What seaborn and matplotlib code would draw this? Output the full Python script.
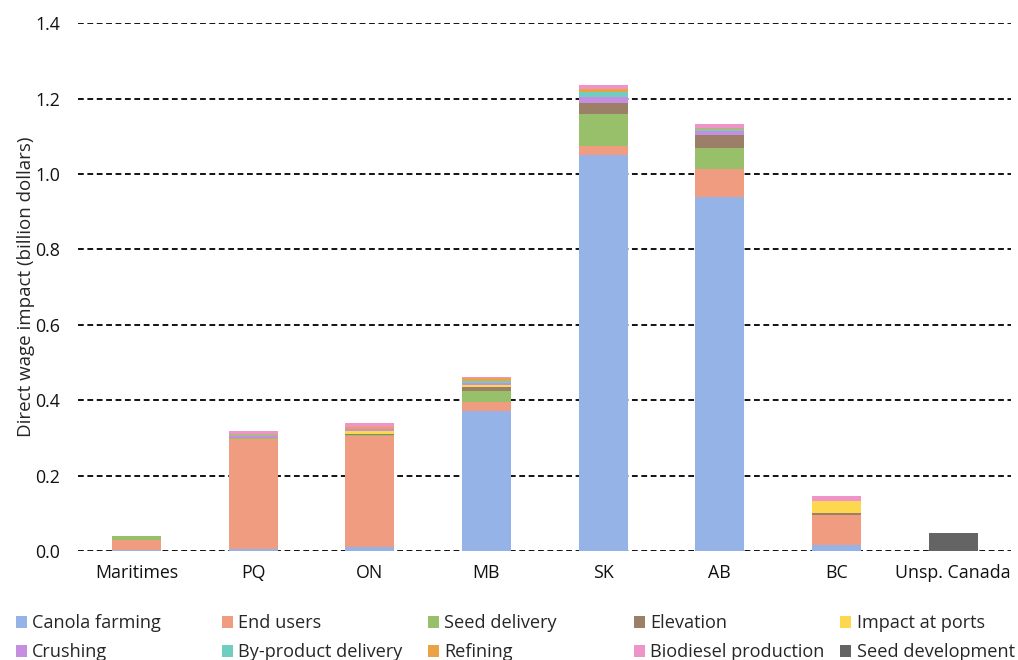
import matplotlib
matplotlib.use("Agg")
import matplotlib.pyplot as plt
from matplotlib.patches import Patch
import seaborn as sns
import pandas as pd

regions = ["Maritimes", "PQ", "ON", "MB", "SK", "AB", "BC", "Unsp. Canada"]

canola_farming = [0.002, 0.006, 0.012, 0.371, 1.049, 0.939, 0.016, 0.0]
end_users = [0.027, 0.291, 0.294, 0.025, 0.025, 0.074, 0.079, 0.0]
seed_delivery = [0.010, 0.002, 0.002, 0.029, 0.084, 0.056, 0.0, 0.0]
elevation = [0.0, 0.001, 0.002, 0.011, 0.029, 0.034, 0.007, 0.0]
impact_at_ports = [0.0, 0.0, 0.009, 0.004, 0.002, 0.0, 0.032, 0.0]
crushing = [0.0, 0.004, 0.004, 0.005, 0.015, 0.012, 0.0, 0.0]
byproduct_delivery = [0.0, 0.005, 0.002, 0.005, 0.012, 0.004, 0.0, 0.0]
refining = [0.0, 0.001, 0.004, 0.010, 0.010, 0.002, 0.0, 0.0]
biodiesel_production = [0.0, 0.009, 0.011, 0.001, 0.010, 0.011, 0.011, 0.0]
seed_development = [0.0, 0.0, 0.0, 0.0, 0.0, 0.0, 0.0, 0.047]

series = {
    "Canola farming": canola_farming,
    "End users": end_users,
    "Seed delivery": seed_delivery,
    "Elevation": elevation,
    "Impact at ports": impact_at_ports,
    "Crushing": crushing,
    "By-product delivery": byproduct_delivery,
    "Refining": refining,
    "Biodiesel production": biodiesel_production,
    "Seed development": seed_development,
}
colors = ["#95b3e7", "#f09c80", "#98c06a", "#9b7f66", "#fdd84e",
          "#c58ee0", "#6fcdc1", "#eba244", "#ee94c9", "#646464"]
labels = list(series.keys())

rows = []
for name, vals in series.items():
    for reg, v in zip(regions, vals):
        rows.append({"region": reg, "component": name, "value": v})
df = pd.DataFrame(rows)

sns.set_theme(style="white")
plt.rcParams["font.family"] = ["Open Sans", "DejaVu Sans"]

fig = plt.figure(figsize=(10.18, 6.6), dpi=100)
ax = fig.add_axes([0.0766, 0.165, 0.917, 0.8])

# seaborn stacks the last hue level at the bottom, so pass them reversed
pal = dict(zip(labels, colors))
sns.histplot(data=df, x="region", weights="value", hue="component",
             hue_order=labels[::-1], multiple="stack", discrete=True,
             shrink=0.42, palette=pal, alpha=1, linewidth=0, legend=False,
             ax=ax)

ax.set_xlim(-0.5, 7.5)
ax.set_ylim(0, 1.4)
ax.set_yticks([0, 0.2, 0.4, 0.6, 0.8, 1.0, 1.2, 1.4])
ax.set_yticklabels(["0.0", "0.2", "0.4", "0.6", "0.8", "1.0", "1.2", "1.4"])
ax.set_xticks(range(len(regions)))
ax.set_xticklabels(regions)
ax.tick_params(axis="both", length=0, labelsize=12.8, colors="#111111")
ax.tick_params(axis="y", pad=13)
ax.tick_params(axis="x", pad=9)
ax.set_xlabel("")
ax.set_ylabel("Direct wage impact (billion dollars)", fontsize=13.5, labelpad=0)
ax.yaxis.grid(True, color="black", linestyle=(0, (3.2, 2.0)), linewidth=1.3)
ax.set_axisbelow(True)
for s in ax.spines.values():
    s.set_visible(False)

# legend: 5 columns of 2 rows, evenly spaced
for c in range(5):
    idx = [c, c + 5]
    handles = [Patch(facecolor=colors[i], edgecolor="none") for i in idx]
    fig.legend(handles, [labels[i] for i in idx], loc="upper left",
               bbox_to_anchor=(0.0157 + c * 0.2024, 0.069), frameon=False,
               fontsize=13.1, handlelength=0.6, handleheight=0.6,
               handletextpad=0.3, labelspacing=0.6, borderaxespad=0,
               borderpad=0)

fig.savefig("out.png", dpi=100)
